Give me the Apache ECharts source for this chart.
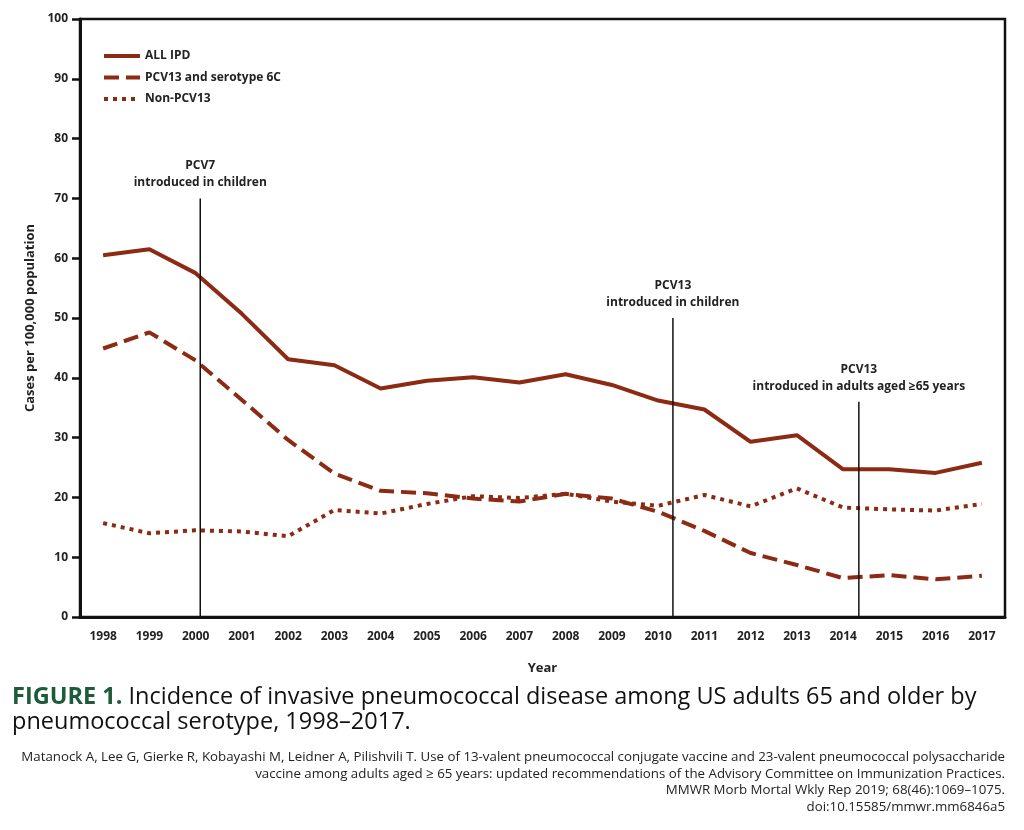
<!DOCTYPE html>
<html>
<head>
<meta charset="utf-8">
<script src="https://cdn.jsdelivr.net/npm/echarts@6/dist/echarts.min.js"></script>
<style>
  html, body { margin: 0; padding: 0; background: #fff; }
  #chart { width: 1024px; height: 830px; }
</style>
</head>
<body>
<div id="chart"></div>
<script>
const years = ['1998', '1999', '2000', '2001', '2002', '2003', '2004', '2005', '2006', '2007',
    '2008', '2009', '2010', '2011', '2012', '2013', '2014', '2015', '2016', '2017'];
const allIpd = [60.5, 61.5, 57.5, 50.7, 43.1, 42.1, 38.2, 39.5, 40.1, 39.2,
    40.6, 38.8, 36.2, 34.7, 29.3, 30.4, 24.7, 24.7, 24.1, 25.8];
const pcv13And6c = [44.9, 47.6, 42.9, 36.3, 29.6, 24.0, 21.1, 20.7, 19.8, 19.3,
    20.6, 19.8, 17.6, 14.4, 10.7, 8.7, 6.5, 7.0, 6.3, 6.9];
const nonPcv13 = [15.7, 14.0, 14.5, 14.3, 13.5, 17.9, 17.3, 18.9, 20.2, 19.9,
    20.6, 19.3, 18.6, 20.4, 18.5, 21.5, 18.3, 18.0, 17.8, 18.9];
const yTicks = { min: 0, max: 100, interval: 10 };

// vertical markers: year position, height of line, label
const eventYears = [2000.1, 2010.32, 2014.34];
const eventTops = [70, 50, 36];
const eventLabels = [
    'PCV7\nintroduced in children',
    'PCV13\nintroduced in children',
    'PCV13\nintroduced in adults aged \u226565 years',
];

const red = '#8c2a13';
const font = '"Open Sans", "Noto Sans", sans-serif';
const dashed = [15, 7];
const dotted = [4, 5];

const chart = echarts.init(document.getElementById('chart'));

const eventSeries = eventYears.map((x, i) => ({
    type: 'line',
    xAxisIndex: 1,
    silent: true,
    symbol: 'circle',
    symbolSize: 0,
    showSymbol: true,
    itemStyle: { color: 'rgba(0,0,0,0)' },
    lineStyle: { color: '#111', width: 1.5 },
    data: [
        [x, 0],
        {
            value: [x, eventTops[i]],
            label: {
                show: true,
                position: 'top',
                distance: 7,
                formatter: eventLabels[i],
                color: '#222',
                fontFamily: font,
                fontSize: 12,
                fontWeight: 700,
                lineHeight: 17,
                align: 'center',
            },
        },
    ],
}));

const option = {
    animation: false,
    textStyle: { fontFamily: font },
    grid: {
        left: 80,
        right: 19,
        top: 19,
        bottom: 213,
        show: true,
        borderColor: '#111',
        borderWidth: 2.5,
    },
    legend: {
        orient: 'vertical',
        left: 102,
        top: 50,
        padding: 0,
        itemWidth: 36,
        itemHeight: 14,
        itemGap: 9.5,
        itemStyle: { opacity: 0, color: 'rgba(0,0,0,0)', borderWidth: 0 },
        textStyle: { fontFamily: font, fontSize: 12, fontWeight: 700, color: '#222' },
        data: [
            { name: 'ALL IPD', lineStyle: { width: 4, type: 'solid' } },
            { name: 'PCV13 and serotype 6C', lineStyle: { width: 4, type: dashed } },
            { name: 'Non-PCV13', lineStyle: { width: 4, type: dotted } },
        ],
    },
    xAxis: [
        {
            type: 'category',
            data: years,
            boundaryGap: true,
            name: 'Year',
            nameLocation: 'middle',
            nameGap: 45,
            nameTextStyle: { fontFamily: font, fontSize: 13, fontWeight: 700, color: '#222' },
            axisLine: { lineStyle: { color: '#111', width: 3 } },
            axisTick: { alignWithLabel: true, length: 8, lineStyle: { color: '#111', width: 2.5 } },
            axisLabel: { margin: 14, fontSize: 12, fontWeight: 700, color: '#222', fontFamily: font },
            splitLine: { show: false },
        },
        {
            type: 'value',
            min: 1997.5,
            max: 2017.5,
            show: false,
        },
    ],
    yAxis: {
        type: 'value',
        min: yTicks.min,
        max: yTicks.max,
        interval: yTicks.interval,
        name: 'Cases per 100,000 population',
        nameLocation: 'middle',
        nameGap: 42,
        nameTextStyle: { fontFamily: font, fontSize: 13, fontWeight: 700, color: '#222' },
        axisLine: { show: true, lineStyle: { color: '#111', width: 3 } },
        axisTick: { show: true, length: 8, lineStyle: { color: '#111', width: 2.5 } },
        axisLabel: { margin: 12, fontSize: 12, fontWeight: 700, color: '#222', fontFamily: font },
        splitLine: { show: false },
    },
    series: [
        {
            name: 'ALL IPD',
            type: 'line',
            data: allIpd,
            symbol: 'none',
            color: red,
            lineStyle: { color: red, width: 4 },
        },
        {
            name: 'PCV13 and serotype 6C',
            type: 'line',
            data: pcv13And6c,
            symbol: 'none',
            color: red,
            lineStyle: { color: red, width: 4, type: dashed },
        },
        {
            name: 'Non-PCV13',
            type: 'line',
            data: nonPcv13,
            symbol: 'none',
            color: red,
            lineStyle: { color: red, width: 4, type: dotted },
        },
        ...eventSeries,
    ],
    graphic: [
        {
            type: 'text',
            x: 12,
            y: 685,
            style: {
                rich: {
                    g: { fontFamily: font, fontSize: 23.5, fontWeight: 700, fill: '#1d5b3a' },
                    t: { fontFamily: font, fontSize: 23.5, fill: '#111' },
                },
                text: '{g|FIGURE 1.}{t| Incidence of invasive pneumococcal disease among US adults 65 and older by}\n'
                    + '{t|pneumococcal serotype, 1998\u20132017.}',
                lineHeight: 25,
            },
        },
        {
            type: 'text',
            x: 1005,
            y: 749,
            style: {
                text: 'Matanock A, Lee G, Gierke R, Kobayashi M, Leidner A, Pilishvili T. Use of 13-valent pneumococcal conjugate vaccine and 23-valent pneumococcal polysaccharide\n'
                    + 'vaccine among adults aged \u2265 65 years: updated recommendations of the Advisory Committee on Immunization Practices.\n'
                    + 'MMWR Morb Mortal Wkly Rep 2019; 68(46):1069\u20131075.\n'
                    + 'doi:10.15585/mmwr.mm6846a5',
                align: 'right',
                textAlign: 'right',
                fontFamily: font,
                fontSize: 13.3,
                lineHeight: 16.5,
                fill: '#222',
            },
        },
    ],
};

chart.setOption(option);
</script>
</body>
</html>
